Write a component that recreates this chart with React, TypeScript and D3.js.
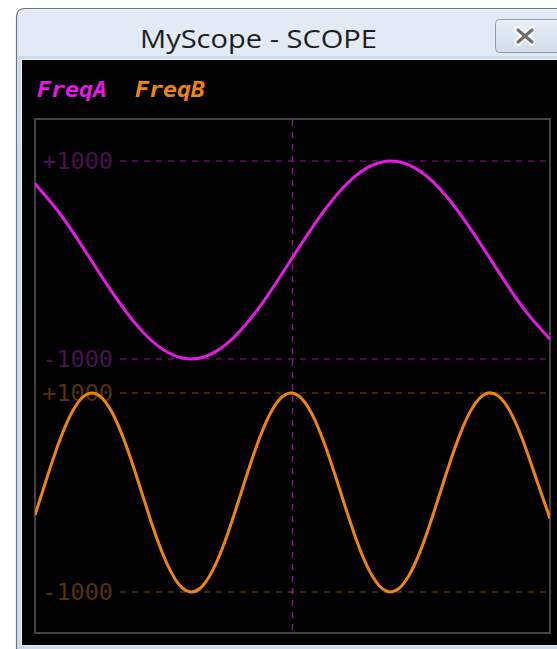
import React from "react";
import * as d3 from "d3";

const windowTitle = "MyScope - SCOPE";
const seriesNames = ["FreqA", "FreqB"];
const seriesColors = ["#e619e6", "#f08410"];
const gridColors = ["#5e1262", "#5a3206"];
const labelColors = ["#4a1150", "#553209"];
const tickValues = [1000, -1000];
const tickLabels = ["+1000", "-1000"];

// time samples (arbitrary units across the screen)
const timeA = [0, 5, 10, 15, 20, 25, 30, 35, 40, 45, 50, 55, 60, 65, 70, 75, 80, 85, 90, 95, 100];
const freqA = [770, 457, 71, -327, -673, -910, -1000, -928, -707, -372, 24, 415, 740, 945, 998, 889, 637, 282, -118, -498, -800];

const timeB = [0, 2.5, 5, 7.5, 10, 12.5, 15, 17.5, 20, 22.5, 25, 27.5, 30, 32.5, 35, 37.5, 40, 42.5, 45, 47.5, 50,
  52.5, 55, 57.5, 60, 62.5, 65, 67.5, 70, 72.5, 75, 77.5, 80, 82.5, 85, 87.5, 90, 92.5, 95, 97.5, 100];
const freqB = [-227, 177, 552, 837, 985, 973, 802, 500, 117, -286, -641, -893, -998, -941, -731, -402, -7, 389, 722, 937, 999,
  898, 651, 297, -104, -489, -793, -969, -987, -844, -564, -191, 213, 582, 856, 991, 968, 790, 485, 110, -260];

const W = 557;
const H = 649;
const frame = { left: 35, right: 550, top: 119, bottom: 633 };

export default function App() {
  const x = d3.scaleLinear().domain([0, 100]).range([frame.left, frame.right]);
  const yA = d3.scaleLinear().domain([-1000, 1000]).range([359, 161]);
  const yB = d3.scaleLinear().domain([-1000, 1000]).range([592, 393]);
  const scales = [yA, yB];

  const lineA = d3
    .line<number>()
    .x((_, i) => x(timeA[i]))
    .y((d) => yA(d))
    .curve(d3.curveNatural)(freqA) as string;
  const lineB = d3
    .line<number>()
    .x((_, i) => x(timeB[i]))
    .y((d) => yB(d))
    .curve(d3.curveNatural)(freqB) as string;

  const xMid = x(50);
  const mono = "'DejaVu Sans Mono', monospace";

  return (
    <svg
      width={W}
      height={H}
      style={{ position: "absolute", left: 0, top: 0, display: "block" }}
    >
      <defs>
        <linearGradient id="tb" x1="0" y1="0" x2="0" y2="1">
          <stop offset="0" stopColor="#e2ebf6" />
          <stop offset="1" stopColor="#cddbeb" />
        </linearGradient>
        <linearGradient id="btn" x1="0" y1="0" x2="0" y2="1">
          <stop offset="0" stopColor="#e9eff7" />
          <stop offset="1" stopColor="#d1ddeb" />
        </linearGradient>
        <clipPath id="plotClip">
          <rect x={frame.left} y={frame.top} width={frame.right - frame.left} height={frame.bottom - frame.top} />
        </clipPath>
      </defs>
      <rect x={0} y={0} width={W} height={H} fill="#ffffff" />
      {/* window chrome */}
      <path
        d={`M16.5,${H} L16.5,17 Q16.5,8.5 25,8.5 L${W + 2},8.5 L${W + 2},${H} Z`}
        fill="url(#tb)"
        stroke="#6f7378"
        strokeWidth={1.2}
      />
      <rect x={17.5} y={56} width={W} height={H - 56} fill="#cddbea" />
      <rect x={21} y={59} width={W} height={587} fill="#e8eef6" />
      <rect x={22} y={60} width={W} height={585} fill="#000000" />
      <text
        x={140}
        y={48}
        textLength={237}
        lengthAdjust="spacingAndGlyphs"
        fontFamily="'Open Sans', 'Noto Sans', sans-serif"
        fontSize={26}
        fill="#1e1e1e"
      >
        {windowTitle}
      </text>
      {/* close button */}
      <rect x={495.5} y={19.5} width={70} height={33} rx={4} fill="url(#btn)" stroke="#8d9aab" strokeWidth={1} />
      <g stroke="#fafafa" strokeWidth={7} strokeLinecap="round">
        <line x1={518} y1={30} x2={532} y2={42} />
        <line x1={532} y1={30} x2={518} y2={42} />
      </g>
      <g stroke="#6e6e6e" strokeWidth={3.2} strokeLinecap="round">
        <line x1={518} y1={30} x2={532} y2={42} />
        <line x1={532} y1={30} x2={518} y2={42} />
      </g>

      {/* legend */}
      {seriesNames.map((n, i) => (
        <text
          key={n}
          x={i === 0 ? 37 : 135}
          y={97}
          textLength={70}
          lengthAdjust="spacingAndGlyphs"
          fontFamily={mono}
          fontWeight="bold"
          fontStyle="italic"
          fontSize={21}
          fill={seriesColors[i]}
        >
          {n}
        </text>
      ))}

      {/* frame */}
      <rect
        x={frame.left}
        y={frame.top}
        width={frame.right - frame.left}
        height={frame.bottom - frame.top}
        fill="none"
        stroke="#444444"
        strokeWidth={2}
      />

      {/* horizontal grid + labels */}
      {scales.map((s, si) =>
        tickValues.map((v, ti) => (
          <g key={`${si}-${ti}`}>
            <line
              x1={120}
              x2={frame.right - 3}
              y1={s(v)}
              y2={s(v)}
              stroke={gridColors[si]}
              strokeWidth={1.5}
              strokeDasharray="6 6"
            />
            <text
              x={113}
              y={s(v)}
              textAnchor="end"
              dominantBaseline="central"
              fontFamily={mono}
              fontSize={23.5}
              fill={labelColors[si]}
            >
              {tickLabels[ti]}
            </text>
          </g>
        ))
      )}

      {/* vertical center line */}
      <line
        x1={xMid}
        x2={xMid}
        y1={frame.top + 1}
        y2={frame.bottom - 1}
        stroke="#8a168a"
        strokeWidth={1.5}
        strokeDasharray="6 6"
      />

      {/* traces */}
      <g clipPath="url(#plotClip)" fill="none" strokeWidth={3} strokeLinejoin="round">
        <path d={lineA} stroke={seriesColors[0]} />
        <path d={lineB} stroke={seriesColors[1]} />
      </g>
    </svg>
  );
}
